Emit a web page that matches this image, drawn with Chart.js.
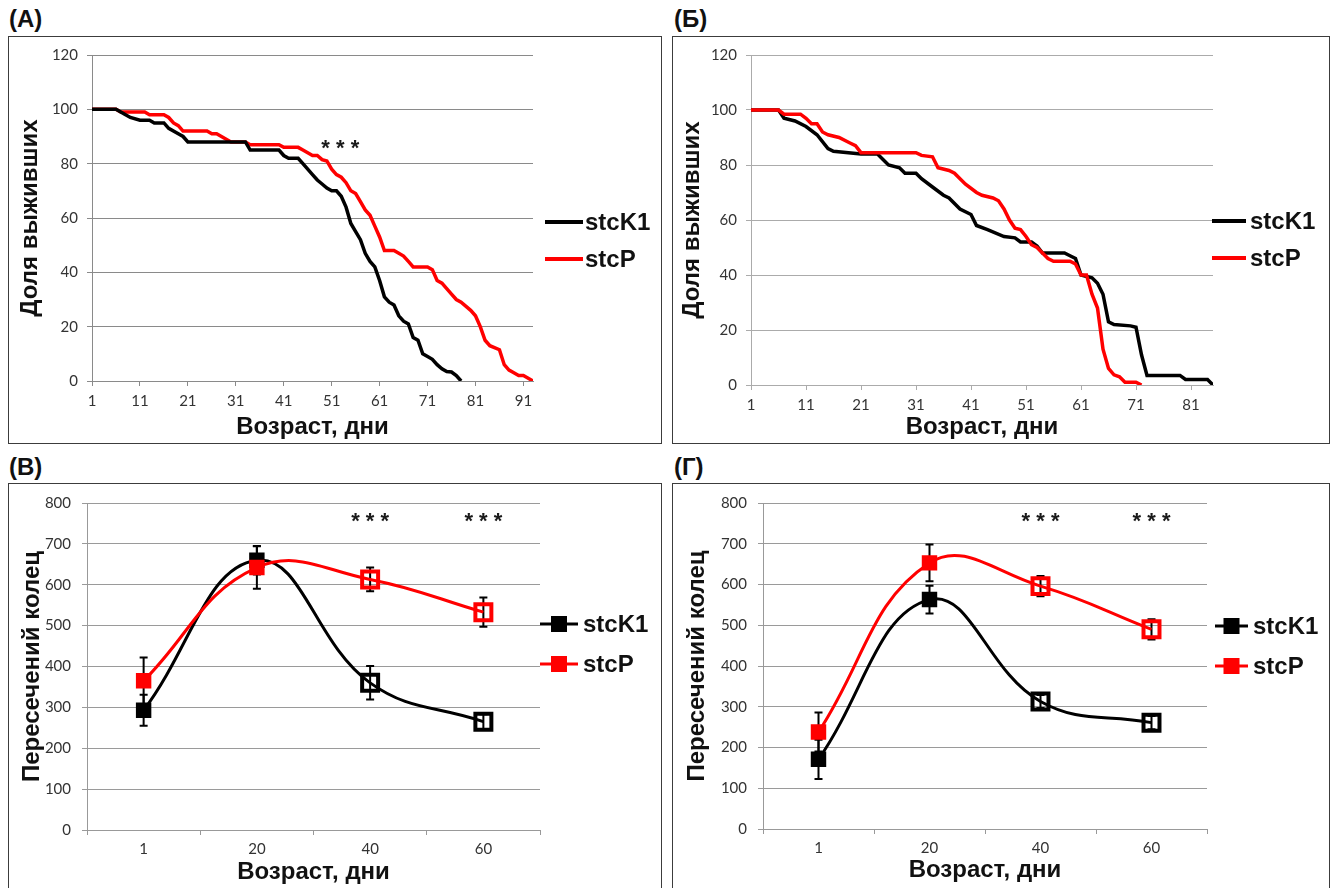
<!DOCTYPE html>
<html>
<head>
<meta charset="utf-8">
<script src="https://cdn.jsdelivr.net/npm/chart.js@4.4.1/dist/chart.umd.min.js"></script>
<style>
  body { margin:0; width:1336px; height:888px; overflow:hidden; position:relative; background:#fff;
         font-family:"Liberation Sans", Arial, sans-serif; }
  .frame { position:absolute; border:1px solid #3c3c3c; box-sizing:border-box; }
  .tag { position:absolute; font-weight:bold; font-size:24px; color:#111; line-height:1; }
  canvas { position:absolute; }
</style>
</head>
<body>
<div class="tag" style="left:9px;top:7px">(А)</div>
<div class="tag" style="left:674px;top:7px">(Б)</div>
<div class="tag" style="left:9px;top:455px">(В)</div>
<div class="tag" style="left:674px;top:455px">(Г)</div>

<div class="frame" style="left:8px;top:36px;width:654px;height:408px"></div>
<div class="frame" style="left:672px;top:36px;width:658px;height:408px"></div>
<div class="frame" style="left:8px;top:483px;width:654px;height:410px"></div>
<div class="frame" style="left:672px;top:483px;width:658px;height:410px"></div>

<canvas id="chA" width="654" height="408" style="left:8px;top:36px"></canvas>
<canvas id="chB" width="658" height="408" style="left:672px;top:36px"></canvas>
<canvas id="chC" width="654" height="405" style="left:8px;top:483px"></canvas>
<canvas id="chD" width="658" height="405" style="left:672px;top:483px"></canvas>

<script>
// ---- Survival, panel А (day, % alive) ----
const daysA_K1 = [1, 6, 8, 9, 11, 13, 14, 16, 17, 19, 20, 21, 33, 34, 40, 41, 42, 44, 45, 46, 47, 48, 49, 50, 51, 52, 53, 54, 55, 56, 57, 58, 59, 60, 61, 62, 63, 64, 65, 66, 67, 68, 69, 70, 71, 72, 73, 74, 75, 76, 77, 78];
const survA_K1 = [100, 100, 98, 97, 96, 96, 95, 95, 93, 91, 90, 88, 88, 85, 85, 83, 82, 82, 80, 78, 76, 74, 72.5, 71, 70, 70, 68, 64, 58, 55, 52, 47, 44, 42, 37, 31, 29, 28, 24, 22, 21, 16, 15, 10, 9, 8, 6, 4.5, 3.5, 3.3, 2, 0];
const daysA_P = [1, 6, 7, 12, 13, 16, 17, 18, 19, 20, 25, 26, 27, 29, 30, 33, 34, 40, 41, 44, 45, 46, 47, 48, 49, 50, 51, 52, 53, 54, 55, 56, 57, 58, 59, 60, 61, 62, 64, 65, 66, 67, 68, 71, 72, 73, 74, 75, 76, 77, 78, 80, 81, 82, 83, 84, 86, 87, 88, 89, 90, 91, 92, 93];
const survA_P = [100, 100, 99, 99, 98, 98, 97, 95, 94, 92, 92, 91, 91, 89, 88, 88, 87, 87, 86, 86, 85, 84, 83, 83, 81.5, 81, 78, 76, 75, 73, 70, 69, 66, 63, 61, 57, 53, 48, 48, 47, 46, 44, 42, 42, 41, 37, 36, 34, 32, 30, 29, 26, 24, 20, 15, 13, 11.5, 6, 4, 3, 2, 2, 1, 0];

// ---- Survival, panel Б ----
const daysB_K1 = [1, 6, 7, 9, 11, 13, 15, 16, 21, 24, 25, 26, 28, 29, 31, 32, 34, 36, 37, 39, 41, 42, 44, 47, 49, 50, 52, 53, 54, 58, 59, 60, 61, 63, 64, 65, 66, 67, 70, 71, 72, 73, 79, 80, 84, 85];
const survB_K1 = [100, 100, 97, 96, 94, 91, 86, 85, 84, 84, 82, 80, 79, 77, 77, 75, 72, 69, 68, 64, 62, 58, 56.5, 54, 53.5, 52, 52, 50.5, 48, 48, 47, 46, 40, 39, 37, 33, 23, 22, 21.5, 21, 11, 3.5, 3.5, 2, 2, 0];
const daysB_P = [1, 6, 7, 10, 11, 12, 13, 14, 15, 17, 19, 20, 21, 31, 32, 34, 35, 37, 38, 40, 42, 43, 45, 46, 47, 48, 49, 50, 51, 52, 53, 54, 55, 56, 59, 60, 61, 62, 63, 64, 65, 66, 67, 68, 69, 71, 72];
const survB_P = [100, 100, 98.5, 98.5, 97, 95, 95, 92, 91, 90, 88, 87, 84.5, 84.5, 83.5, 83, 79, 78, 77, 73, 70, 69, 68, 67, 64, 60, 57, 56.5, 54, 51, 50, 48, 46, 45, 45, 44, 40, 40, 33, 28, 13, 6, 3.7, 3, 1, 1, 0];

const dayTicksA = [1, 11, 21, 31, 41, 51, 61, 71, 81, 91];
const dayTicksB = [1, 11, 21, 31, 41, 51, 61, 71, 81];

// ---- Ring crossings (Sholl), panels В and Г ----
const ageCats = ['1', '20', '40', '60'];
const ringsC_K1 = [293, 660, 360, 265];
const errC_K1   = [38, 35, 41, 18];
const ringsC_P  = [365, 642, 613, 533];
const errC_P    = [57, 52, 29, 36];
const ringsD_K1 = [171, 563, 313, 261];
const errD_K1   = [48, 34, 16, 16];
const ringsD_P  = [238, 653, 596, 490];
const errD_P    = [48, 45, 25, 25];

const TXT = '"Liberation Sans", Arial, sans-serif';
const TICKS = { family: 'Lato, "Liberation Sans", sans-serif', size: 15 };
const TITLE = { family: TXT, size: 24, weight: 'bold' };

// legend drawn at the right of the plot
const sideLegend = {
  id: 'sideLegend',
  afterDraw(chart, args, o) {
    const ctx = chart.ctx;
    ctx.save();
    chart.data.datasets.forEach((ds, i) => {
      const y = o.y + i * o.dy;
      ctx.strokeStyle = ds.borderColor;
      ctx.lineWidth = o.lineWidth;
      ctx.beginPath(); ctx.moveTo(o.x, y); ctx.lineTo(o.x + o.len, y); ctx.stroke();
      if (o.marker) {
        ctx.fillStyle = ds.borderColor;
        ctx.fillRect(o.x + o.len / 2 - o.marker / 2, y - o.marker / 2, o.marker, o.marker);
      }
      ctx.fillStyle = '#111';
      ctx.font = 'bold 24px ' + TXT;
      ctx.textAlign = 'left';
      ctx.textBaseline = 'middle';
      ctx.fillText(ds.label, o.x + o.len + o.gap, y + 1);
    });
    ctx.restore();
  }
};

// significance marks
const stars = {
  id: 'stars',
  afterDatasetsDraw(chart, args, o) {
    const ctx = chart.ctx;
    ctx.save();
    ctx.fillStyle = '#1a1a1a';
    ctx.font = 'bold 22px ' + TXT;
    ctx.textAlign = 'center';
    ctx.textBaseline = 'middle';
    (o.items || []).forEach(it => {
      ctx.fillText('* * *', chart.scales.x.getPixelForValue(it.x), chart.scales.y.getPixelForValue(it.y));
    });
    ctx.restore();
  }
};

// vertical error bars (drawn under the markers)
const errorBars = {
  id: 'errorBars',
  beforeDatasetsDraw(chart) {
    const ctx = chart.ctx, ys = chart.scales.y;
    ctx.save();
    ctx.strokeStyle = '#000';
    ctx.lineWidth = 2;
    chart.data.datasets.forEach((ds, i) => {
      if (!ds.errors) return;
      chart.getDatasetMeta(i).data.forEach((pt, j) => {
        const v = ds.data[j], e = ds.errors[j];
        const y1 = ys.getPixelForValue(v + e), y2 = ys.getPixelForValue(v - e);
        ctx.beginPath();
        ctx.moveTo(pt.x, y1); ctx.lineTo(pt.x, y2);
        ctx.moveTo(pt.x - 4, y1); ctx.lineTo(pt.x + 4, y1);
        ctx.moveTo(pt.x - 4, y2); ctx.lineTo(pt.x + 4, y2);
        ctx.stroke();
      });
    });
    ctx.restore();
  }
};

const pairs = (xs, ys) => xs.map((x, i) => ({ x, y: ys[i] }));

function survivalChart(id, cfg) {
  return new Chart(document.getElementById(id), {
    type: 'line',
    data: {
      datasets: [
        { label: 'stcK1', data: pairs(cfg.k1Days, cfg.k1Vals), borderColor: '#000', borderWidth: 3.5,
          pointRadius: 0, tension: 0, order: cfg.k1Order },
        { label: 'stcP', data: pairs(cfg.pDays, cfg.pVals), borderColor: '#f00', borderWidth: 3.5,
          pointRadius: 0, tension: 0, order: cfg.pOrder }
      ]
    },
    options: {
      responsive: false, animation: false, events: [],
      layout: { padding: { top: cfg.top, right: cfg.right, left: 0, bottom: 0 } },
      plugins: {
        legend: { display: false }, tooltip: { enabled: false },
        sideLegend: cfg.legend,
        stars: { items: cfg.stars || [] }
      },
      scales: {
        x: {
          type: 'linear', min: 1, max: cfg.xMax,
          afterBuildTicks: s => { s.ticks = cfg.xTicks.map(v => ({ value: v })); },
          afterFit: s => { s.height = cfg.xHeight; },
          grid: { drawOnChartArea: false, tickLength: 5, color: cfg.grid },
          border: { color: cfg.grid },
          ticks: { font: TICKS, color: '#333', padding: 6, maxRotation: 0, autoSkip: false },
          title: { display: true, text: 'Возраст, дни', font: TITLE, color: '#111', padding: { top: 0, bottom: cfg.xTitlePad } }
        },
        y: {
          min: 0, max: 120,
          afterFit: s => { s.width = cfg.yWidth; },
          grid: { color: cfg.grid, tickLength: 5 },
          border: { color: cfg.grid },
          ticks: { stepSize: 20, font: TICKS, color: '#333', padding: 9 },
          title: { display: true, text: 'Доля выживших', font: TITLE, color: '#111', padding: { top: cfg.yTitlePad, bottom: 0 } }
        }
      }
    },
    plugins: [sideLegend, stars]
  });
}

function ringsChart(id, cfg) {
  // first two ages drawn with filled squares, the later ones open
  const fill = c => [c, c, 'rgba(255,255,255,0)', 'rgba(255,255,255,0)'];
  const series = (label, data, errors, color, order) => ({
    label, data, errors, borderColor: color, backgroundColor: color, borderWidth: 3,
    tension: 0.42, pointStyle: 'rect', pointRadius: [9.5, 9.5, 11.3, 11.3],
    pointBorderWidth: [2, 2, 4, 4],
    pointBackgroundColor: fill(color), pointBorderColor: color, order
  });
  return new Chart(document.getElementById(id), {
    type: 'line',
    data: {
      labels: ageCats,
      datasets: [
        series('stcK1', cfg.k1, cfg.k1Err, '#000', 1),
        series('stcP', cfg.p, cfg.pErr, '#f00', 0)
      ]
    },
    options: {
      responsive: false, animation: false, events: [],
      layout: { padding: { top: cfg.top, right: cfg.right, left: 0, bottom: 0 } },
      plugins: {
        legend: { display: false }, tooltip: { enabled: false },
        sideLegend: cfg.legend,
        stars: { items: [{ x: 2, y: 753 }, { x: 3, y: 753 }] }
      },
      scales: {
        x: {
          type: 'category', offset: true,
          afterFit: s => { s.height = cfg.xHeight; },
          grid: { offset: true, drawOnChartArea: false, tickLength: 5, color: '#999' },
          border: { color: '#999' },
          ticks: { font: TICKS, color: '#333', padding: 5, maxRotation: 0 },
          title: { display: true, text: 'Возраст, дни', font: TITLE, color: '#111', padding: { top: 0, bottom: cfg.xTitlePad } }
        },
        y: {
          min: 0, max: 800,
          afterFit: s => { s.width = cfg.yWidth; },
          grid: { color: '#9a9a9a', tickLength: 5 },
          border: { color: '#999' },
          ticks: { stepSize: 100, font: TICKS, color: '#333', padding: 11 },
          title: { display: true, text: 'Пересечений колец', font: TITLE, color: '#111', padding: { top: cfg.yTitlePad, bottom: 0 } }
        }
      }
    },
    plugins: [errorBars, sideLegend, stars]
  });
}

survivalChart('chA', {
  k1Days: daysA_K1, k1Vals: survA_K1, pDays: daysA_P, pVals: survA_P, k1Order: 0, pOrder: 1,
  xMax: 93, xTicks: dayTicksA, top: 19, right: 129, yWidth: 84, xHeight: 63,
  xTitlePad: 2, yTitlePad: 8, grid: '#8a8a8a',
  legend: { x: 537, y: 186, dy: 37, len: 38, gap: 2, lineWidth: 4 },
  stars: [{ x: 52.8, y: 85.4 }]
});

survivalChart('chB', {
  k1Days: daysB_K1, k1Vals: survB_K1, pDays: daysB_P, pVals: survB_P, k1Order: 1, pOrder: 0,
  xMax: 85, xTicks: dayTicksB, top: 19, right: 117, yWidth: 79, xHeight: 59,
  xTitlePad: 2, yTitlePad: 6, grid: '#ababab',
  legend: { x: 540, y: 185, dy: 37, len: 34, gap: 4, lineWidth: 4 }
});

ringsChart('chC', {
  k1: ringsC_K1, k1Err: errC_K1, p: ringsC_P, pErr: errC_P,
  top: 20, right: 122, yWidth: 79, xHeight: 58, xTitlePad: 1, yTitlePad: 10,
  legend: { x: 532, y: 141, dy: 40, len: 38, gap: 5, lineWidth: 3, marker: 16 }
});

ringsChart('chD', {
  k1: ringsD_K1, k1Err: errD_K1, p: ringsD_P, pErr: errD_P,
  top: 19, right: 123, yWidth: 91, xHeight: 59, xTitlePad: 3, yTitlePad: 11,
  legend: { x: 543, y: 143, dy: 40, len: 33, gap: 5, lineWidth: 3, marker: 16 }
});
</script>
</body>
</html>
